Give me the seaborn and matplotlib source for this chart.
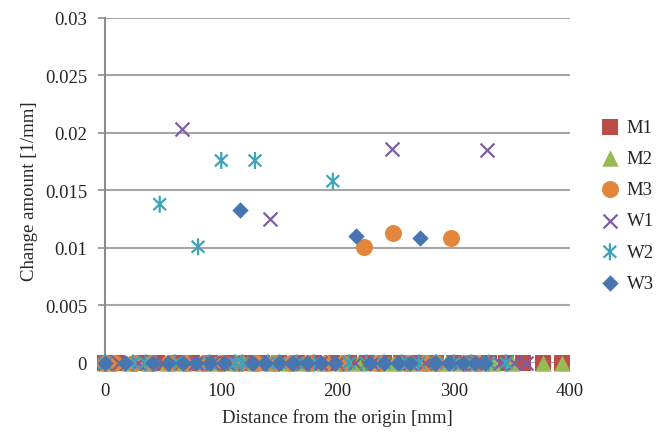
import pandas as pd
import seaborn as sns
from matplotlib import pyplot as plt
from matplotlib.path import Path

# 距离原点的位置 [mm]，变化量为0的点
m1_zero_x = [0, 10, 31, 45, 60, 75, 90, 105, 120, 135, 150, 165, 180, 195, 210, 225, 240, 255, 270, 285, 300, 315, 330, 345, 360, 377, 393]
m2_zero_x = [0, 21, 38, 53, 68, 83, 98, 113, 128, 143, 158, 173, 188, 203, 218, 233, 248, 263, 278, 293, 308, 323, 334, 350, 377, 393]
m3_zero_x = [0, 8, 25, 40, 55, 70, 85, 100, 115, 130, 145, 160, 175, 190, 205, 235, 260, 275, 285, 310, 320]
w1_zero_x = [0, 12, 28, 50, 78, 92, 105, 120, 155, 170, 185, 200, 215, 230, 262, 275, 290, 305, 318, 340, 352, 362]
w2_zero_x = [0, 24, 35, 60, 90, 112, 118, 140, 150, 165, 180, 210, 225, 240, 255, 270, 285, 300, 315, 330, 345]
w3_zero_x = [0, 17, 41, 54, 67, 78, 90, 102, 127, 138, 150, 162, 174, 186, 198, 228, 240, 252, 262, 284, 296, 308, 318, 327]

# 变化量不为0的点
m1_peak_x, m1_peak_y = [], []
m2_peak_x, m2_peak_y = [], []
m3_peak_x = [223, 248, 298]
m3_peak_y = [0.0101, 0.0113, 0.0109]
w1_peak_x = [66, 142, 247, 329]
w1_peak_y = [0.0203, 0.0125, 0.0186, 0.0185]
w2_peak_x = [47, 80, 100, 129, 196]
w2_peak_y = [0.0138, 0.0101, 0.0176, 0.0176, 0.0158]
w3_peak_x = [116, 216, 271]
w3_peak_y = [0.0133, 0.0110, 0.0109]

x_ticks = [0, 100, 200, 300, 400]
y_ticks = [0, 0.005, 0.01, 0.015, 0.02, 0.025, 0.03]
y_ticklabels = ['0', '0.005', '0.01', '0.015', '0.02', '0.025', '0.03']

# Excel风格的星号标记：竖线 + 叉
star = Path([(0, -1), (0, 1), (-0.75, -0.7), (0.75, 0.7), (-0.75, 0.7), (0.75, -0.7)],
            [Path.MOVETO, Path.LINETO, Path.MOVETO, Path.LINETO, Path.MOVETO, Path.LINETO])

series = [
    ('M1', m1_zero_x, m1_peak_x, m1_peak_y, 's', '#BE4B48', 120),
    ('M2', m2_zero_x, m2_peak_x, m2_peak_y, '^', '#98B954', 140),
    ('M3', m3_zero_x, m3_peak_x, m3_peak_y, 'o', '#E3853A', 150),
    ('W1', w1_zero_x, w1_peak_x, w1_peak_y, 'x', '#7D5FA0', 100),
    ('W2', w2_zero_x, w2_peak_x, w2_peak_y, star, '#3FA3BA', 150),
    ('W3', w3_zero_x, w3_peak_x, w3_peak_y, 'D', '#4775B0', 70),
]

sns.set_style('white')
plt.rcParams['font.family'] = ['Liberation Serif', 'DejaVu Serif']

fig = plt.figure(figsize=(6.65, 4.39), dpi=100)
ax = fig.add_axes([0.158, 0.171, 0.699, 0.786])

for name, zx, px, py, mk, col, s in series:
    df = pd.DataFrame({'x': zx + px, 'y': [0.0] * len(zx) + py})
    if mk == 'x':
        sns.scatterplot(data=df, x='x', y='y', ax=ax, marker=mk, s=s, color=col,
                        linewidth=1.6, label=name, clip_on=False, zorder=3)
    elif mk is star:
        sns.scatterplot(data=df, x='x', y='y', ax=ax, marker=mk, s=s, color=col,
                        edgecolor=col, facecolor='none', linewidth=1.6, label=name,
                        clip_on=False, zorder=3)
    else:
        sns.scatterplot(data=df, x='x', y='y', ax=ax, marker=mk, s=s, color=col,
                        linewidth=0, label=name, clip_on=False, zorder=3)

ax.set_xlim(0, 400)
ax.set_ylim(0, 0.03)
ax.set_xticks(x_ticks)
ax.set_yticks(y_ticks)
ax.set_yticklabels(y_ticklabels)
ax.yaxis.grid(True, color='#A6A6A6', linewidth=1.5)
ax.xaxis.grid(False)
ax.set_axisbelow(True)
for sp in ['top', 'right', 'bottom']:
    ax.spines[sp].set_visible(False)
ax.spines['left'].set_color('#8C8C8C')
ax.spines['left'].set_linewidth(1.5)
ax.tick_params(axis='y', length=5, width=1.2, color='#8C8C8C', pad=8, labelsize=13.5, left=True)
ax.tick_params(axis='x', length=0, pad=14, labelsize=13.5)

ax.set_xlabel('Distance from the origin [mm]', fontsize=13.5, labelpad=6)
ax.set_ylabel('Change amount [1/mm]', fontsize=13.5, labelpad=5)

ax.legend(loc='center left', bbox_to_anchor=(0.903, 0.53), bbox_transform=fig.transFigure,
          frameon=False, fontsize=13.5, labelspacing=0.75, handlelength=1.0,
          handletextpad=0.4, borderaxespad=0, borderpad=0)

fig.savefig('out.png', dpi=100)
